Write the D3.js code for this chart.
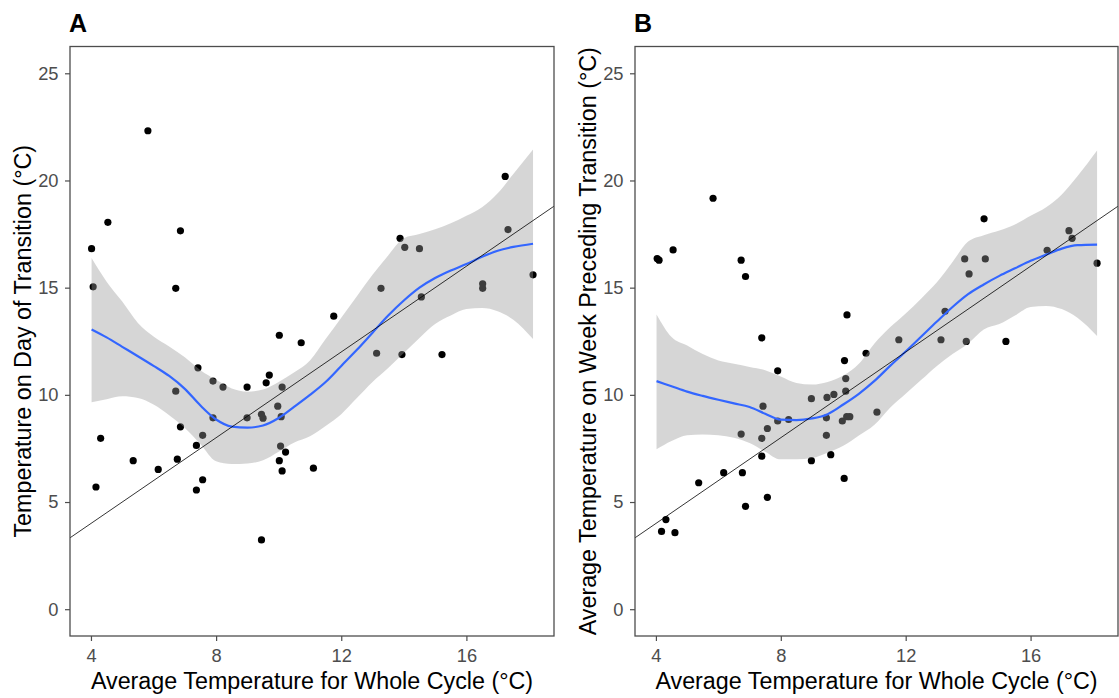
<!DOCTYPE html>
<html>
<head>
<meta charset="utf-8">
<script src="https://cdn.jsdelivr.net/npm/d3@7"></script>
<style>
  html, body { margin: 0; padding: 0; background: #fff; }
  svg { display: block; font-family: "Liberation Sans", Arial, sans-serif; }
</style>
</head>
<body>
<svg id="chart" width="1119" height="698"></svg>
<script>
// ---- Panel A: temperature on day of transition vs cycle average ----
const aX = [4.02, 4.07, 4.31, 4.16, 4.54, 5.35, 5.82, 6.15, 6.71, 6.86, 6.71, 6.86, 6.76,
  7.42, 7.57, 7.37, 7.57, 7.37, 7.90, 7.90, 8.22, 8.99, 8.99, 9.45, 9.50, 9.60, 9.70, 9.45,
  10.02, 9.97, 10.08, 10.06, 10.22, 10.02, 10.11, 10.11, 10.72, 11.11, 11.76, 13.13, 13.27,
  13.88, 14.03, 13.94, 14.50, 14.56, 15.22, 16.52, 16.52, 17.24, 17.33, 18.13];
const aY = [16.82, 15.04, 7.97, 5.70, 18.05, 6.93, 22.32, 6.52, 14.97, 17.65, 10.17, 8.51, 7.00,
  11.26, 8.11, 7.64, 6.04, 5.56, 10.64, 8.93, 10.36, 10.36, 8.93, 9.09, 8.91, 10.56, 10.92, 3.23,
  12.78, 9.47, 8.98, 7.61, 7.33, 6.93, 6.45, 10.36, 12.43, 6.58, 13.67, 11.94, 14.97,
  17.30, 16.88, 11.88, 16.82, 14.57, 11.88, 15.18, 14.97, 20.19, 17.71, 15.60];

// ---- Panel B: mean temperature over the preceding week vs cycle average ----
const bX = [4.04, 4.10, 4.32, 4.18, 4.55, 4.61, 5.37, 5.83, 6.17, 6.73, 6.87, 6.73, 6.77, 6.87,
  7.39, 7.43, 7.39, 7.39, 7.57, 7.57, 7.90, 7.90, 8.25, 8.98, 8.98, 9.48, 9.70, 9.46, 9.46, 9.60,
  10.04, 10.08, 10.08, 9.97, 10.11, 10.21, 10.03, 10.12, 10.73, 11.08, 11.78, 13.13, 13.26,
  13.89, 14.55, 14.03, 13.94, 14.51, 15.21, 16.53, 17.23, 17.33, 18.13];
const bY = [16.36, 16.28, 4.18, 3.63, 16.76, 3.57, 5.90, 19.17, 6.37, 16.28, 15.52, 8.17, 6.37, 4.80,
  12.66, 9.47, 7.97, 7.14, 8.43, 5.22, 11.12, 8.78, 8.85, 9.82, 6.93, 9.88, 10.02, 8.93, 8.11, 7.21,
  11.60, 10.76, 10.17, 8.78, 8.98, 8.98, 6.10, 13.73, 11.94, 9.19, 12.57, 12.57, 13.90,
  16.34, 16.34, 15.64, 12.49, 18.21, 12.49, 16.74, 17.66, 17.30, 16.14];

// ---- Loess smooth with 95% band, sampled along the x axis ----
const smoothX = [4.02, 4.5, 5, 5.5, 6, 6.5, 7, 7.5, 8, 8.5, 9, 9.5, 10, 10.5, 11, 11.5, 12,
  12.5, 13, 13.5, 14, 14.5, 15, 15.5, 16, 16.5, 17, 17.5, 18.13];
const aFit = [13.05, 12.68, 12.24, 11.8, 11.35, 10.88, 10.28, 9.5, 8.85, 8.52, 8.47, 8.57, 8.92,
  9.45, 10.0, 10.6, 11.35, 12.1, 12.9, 13.7, 14.4, 15.0, 15.45, 15.8, 16.1, 16.44, 16.72, 16.9, 17.05];
const aHi = [16.38, 15.28, 14.35, 13.35, 12.72, 12.25, 11.75, 11.15, 10.7, 10.3, 10.15, 10.25, 10.6,
  11.05, 11.6, 12.6, 13.6, 14.6, 15.6, 16.5, 17.3, 17.5, 17.72, 18.0, 18.35, 18.75, 19.4, 20.3, 21.44];
const aLo = [9.66, 9.8, 9.93, 9.85, 9.55, 9.05, 8.45, 7.7, 6.9, 6.77, 6.8, 6.95, 7.35,
  7.78, 8.07, 8.55, 9.1, 9.85, 10.6, 11.25, 11.95, 12.65, 13.3, 13.7, 14.0, 14.05, 13.9, 13.5, 12.6];
const bFit = [10.64, 10.4, 10.15, 9.95, 9.77, 9.6, 9.43, 9.12, 8.84, 8.82, 8.9, 9.1, 9.55,
  10.05, 10.65, 11.35, 12.02, 12.72, 13.42, 14.1, 14.7, 15.15, 15.55, 15.9, 16.25, 16.54, 16.82, 16.98, 17.01];
const bHi = [13.75, 12.7, 12.3, 11.9, 11.6, 11.45, 11.3, 11.15, 10.85, 10.55, 10.48, 10.6, 10.9,
  11.45, 12.4, 13.15, 13.8, 14.5, 15.25, 16.2, 17.15, 17.45, 17.67, 17.95, 18.35, 18.75, 19.35, 20.2, 21.4];
const bLo = [7.46, 7.85, 8.12, 8.15, 8.12, 8.0, 7.75, 7.35, 6.99, 6.99, 7.05, 7.3, 7.62,
  8.1, 8.6, 9.4, 10.05, 10.7, 11.35, 11.9, 12.4, 13.05, 13.3, 13.7, 14.1, 14.15, 14.0, 13.6, 12.75];

// ---- Axis ticks ----
const xTicks = [4, 8, 12, 16];
const yTicks = [0, 5, 10, 15, 20, 25];

const xDomain = [3.33, 18.8];
const yDomain = [-1.25, 26.25];

const svg = d3.select("#chart");

const panels = [
  { tag: "A", left: 70, right: 554, px: aX, py: aY, fit: aFit, lo: aLo, hi: aHi,
    yTitle: "Temperature on Day of Transition (\u00B0C)" },
  { tag: "B", left: 635, right: 1118, px: bX, py: bY, fit: bFit, lo: bLo, hi: bHi,
    yTitle: "Average Temperature on Week Preceding Transition (\u00B0C)" }
];
const panelTop = 46.5, panelBottom = 636;
const titleSize = 23.3, tickSize = 18.3;

panels.forEach((p, i) => {
  const x = d3.scaleLinear().domain(xDomain).range([p.left, p.right]);
  const y = d3.scaleLinear().domain(yDomain).range([panelBottom, panelTop]);
  const g = svg.append("g");

  const clipId = "clip" + i;
  svg.append("defs").append("clipPath").attr("id", clipId)
    .append("rect").attr("x", p.left).attr("y", panelTop)
    .attr("width", p.right - p.left).attr("height", panelBottom - panelTop);

  // points
  const pts = p.px.map((v, k) => [v, p.py[k]]);
  g.append("g").selectAll("circle").data(pts).join("circle")
    .attr("cx", d => x(d[0])).attr("cy", d => y(d[1]))
    .attr("r", 3.6).attr("fill", "#000");

  // confidence band (semi-transparent, drawn over points)
  const band = smoothX.map((v, k) => ({ x: v, lo: p.lo[k], hi: p.hi[k], fit: p.fit[k] }));
  g.append("path").datum(band)
    .attr("d", d3.area().x(d => x(d.x)).y0(d => y(d.lo)).y1(d => y(d.hi)).curve(d3.curveMonotoneX))
    .attr("fill", "#999999").attr("fill-opacity", 0.4);

  // fitted curve
  g.append("path").datum(band)
    .attr("d", d3.line().x(d => x(d.x)).y(d => y(d.fit)).curve(d3.curveMonotoneX))
    .attr("fill", "none").attr("stroke", "#3366FF").attr("stroke-width", 2.2);

  // 1:1 reference line
  g.append("line").attr("clip-path", `url(#${clipId})`)
    .attr("x1", x(xDomain[0])).attr("y1", y(xDomain[0]))
    .attr("x2", x(xDomain[1])).attr("y2", y(xDomain[1]))
    .attr("stroke", "#000").attr("stroke-width", 0.8);

  // panel border
  g.append("rect").attr("x", p.left).attr("y", panelTop)
    .attr("width", p.right - p.left).attr("height", panelBottom - panelTop)
    .attr("fill", "none").attr("stroke", "#4d4d4d").attr("stroke-width", 1.3);

  // x axis
  const xa = g.append("g").attr("transform", `translate(0,${panelBottom})`)
    .call(d3.axisBottom(x).tickValues(xTicks).tickSize(5).tickPadding(8).tickFormat(d3.format("d")));
  xa.select(".domain").remove();
  xa.selectAll("line").attr("stroke", "#4d4d4d").attr("stroke-width", 1.2);
  xa.selectAll("text").attr("fill", "#4d4d4d").attr("font-size", tickSize)
    .attr("font-family", "Liberation Sans, Arial, sans-serif");

  // y axis
  const ya = g.append("g").attr("transform", `translate(${p.left},0)`)
    .call(d3.axisLeft(y).tickValues(yTicks).tickSize(5).tickPadding(6.5).tickFormat(d3.format("d")));
  ya.select(".domain").remove();
  ya.selectAll("line").attr("stroke", "#4d4d4d").attr("stroke-width", 1.2);
  ya.selectAll("text").attr("fill", "#4d4d4d").attr("font-size", tickSize)
    .attr("font-family", "Liberation Sans, Arial, sans-serif");

  // axis titles
  g.append("text").attr("x", (p.left + p.right) / 2).attr("y", 688.5)
    .attr("text-anchor", "middle").attr("font-size", titleSize).attr("fill", "#000")
    .text("Average Temperature for Whole Cycle (\u00B0C)");
  g.append("text")
    .attr("transform", `translate(${p.left - 39},${(panelTop + panelBottom) / 2}) rotate(-90)`)
    .attr("text-anchor", "middle").attr("font-size", titleSize).attr("fill", "#000")
    .text(p.yTitle);

  // panel tag
  g.append("text").attr("x", p.left - 1).attr("y", 31.5)
    .attr("font-size", 25).attr("font-weight", "bold").attr("fill", "#000")
    .text(p.tag);
});
</script>
</body>
</html>
